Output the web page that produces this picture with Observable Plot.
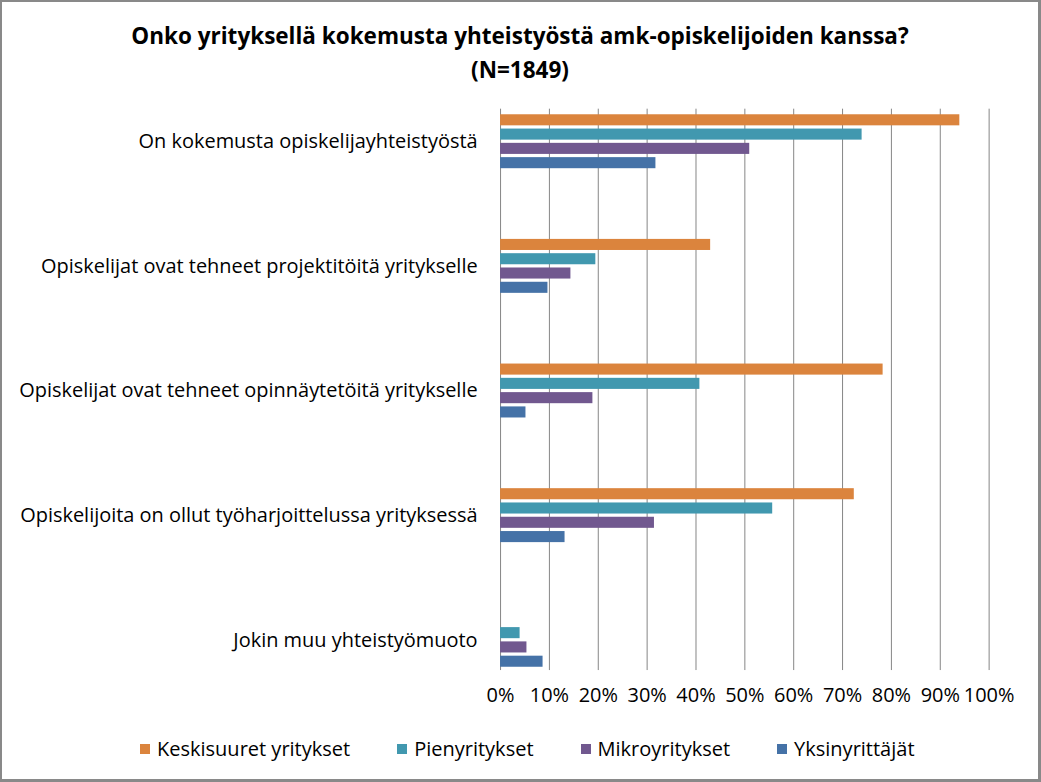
<!DOCTYPE html>
<html>
<head>
<meta charset="utf-8">
<script src="https://cdn.jsdelivr.net/npm/d3@7"></script>
<script src="https://cdn.jsdelivr.net/npm/@observablehq/plot@0.6"></script>
<style>
  html, body { margin: 0; padding: 0; background: #fff; }
  #wrap { position: relative; width: 1041px; height: 782px; box-sizing: border-box;
          border: 2px solid #898989; border-right-width: 3px; border-bottom-width: 3px; overflow: hidden;
          font-family: "Open Sans", Lato, sans-serif; }
  #title { position: absolute; left: 0; right: 0; top: 17px; text-align: center;
           font-weight: bold; font-size: 22.5px; line-height: 34px; color: #000; }
  #chart { position: absolute; left: -2px; top: -2px; }
  #legend { position: absolute; top: 733px; left: 138px; display: flex; align-items: center;
            font-size: 20px; color: #000; }
  .item { display: flex; align-items: center; margin-right: 47px; }
  .sw { width: 10px; height: 10px; margin-right: 7px; }
</style>
</head>
<body>
<div id="wrap">
  <div id="title">Onko yrityksellä kokemusta yhteistyöstä amk-opiskelijoiden kanssa?<br>(N=1849)</div>
  <div id="chart"></div>
  <div id="legend"></div>
</div>
<script>
const categories = [
  "On kokemusta opiskelijayhteistyöstä",
  "Opiskelijat ovat tehneet projektitöitä yritykselle",
  "Opiskelijat ovat tehneet opinnäytetöitä yritykselle",
  "Opiskelijoita on ollut työharjoittelussa yrityksessä",
  "Jokin muu yhteistyömuoto"
];
const seriesNames = ["Keskisuuret yritykset", "Pienyritykset", "Mikroyritykset", "Yksinyrittäjät"];
const seriesColors = ["#DB843D", "#4198AF", "#71588F", "#4572A7"];
const keskisuuret = [94.0, 43.0, 78.3, 72.4, 0];
const pienyritykset = [74.0, 19.5, 40.8, 55.7, 4.0];
const mikroyritykset = [51.0, 14.4, 18.9, 31.5, 5.4];
const yksinyrittajat = [31.8, 9.7, 5.2, 13.2, 8.7];
const xTicks = [0, 10, 20, 30, 40, 50, 60, 70, 80, 90, 100];

const seriesValues = [keskisuuret, pienyritykset, mikroyritykset, yksinyrittajat];

const band = 125.2, groupPad = 35.6, barStep = 14.33, barH = 11.3;

const barMarks = seriesValues.map((vals, i) => {
  const data = categories.map((c, j) => ({category: c, value: vals[j], series: seriesNames[i]}));
  const top = groupPad + i * barStep;
  return Plot.barX(data, {
    x: "value", y: "category", fill: seriesColors[i],
    insetTop: top, insetBottom: band - top - barH
  });
});

const chart = Plot.plot({
  width: 1041,
  height: 782,
  marginTop: 109,
  marginBottom: 110,
  marginLeft: 501.5,
  marginRight: 49.5,
  style: {fontFamily: "'Open Sans', Lato, sans-serif", fontSize: "20px", color: "#000", background: "transparent"},
  x: {domain: [0, 100], ticks: xTicks, tickFormat: d => d + "%", label: null},
  y: {domain: categories, range: [78.4, 704.6], padding: 0, label: null},
  marks: [
    Plot.ruleX(xTicks, {stroke: "#868686", strokeWidth: 1}),
    ...barMarks,
    Plot.axisX({ticks: xTicks, tickFormat: d => d + "%", tickSize: 0, tickPadding: 17, fontSize: 20, label: null}),
    Plot.axisY({tickSize: 0, tickPadding: 23, fontSize: 20, label: null})
  ]
});
document.getElementById("chart").appendChild(chart);

const legend = document.getElementById("legend");
seriesNames.forEach((name, i) => {
  const item = document.createElement("div");
  item.className = "item";
  const sw = document.createElement("div");
  sw.className = "sw";
  sw.style.background = seriesColors[i];
  const label = document.createElement("span");
  label.textContent = name;
  item.appendChild(sw);
  item.appendChild(label);
  legend.appendChild(item);
});
</script>
</body>
</html>
